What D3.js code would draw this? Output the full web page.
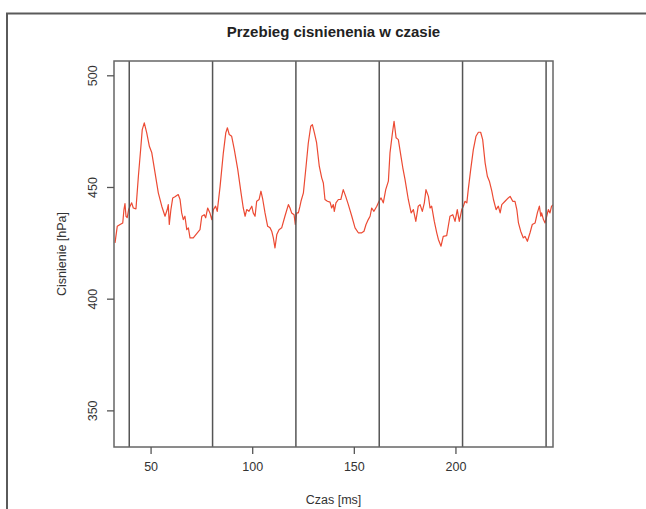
<!DOCTYPE html>
<html>
<head>
<meta charset="utf-8">
<script src="https://cdn.jsdelivr.net/npm/d3@7"></script>
<style>
  html, body { margin: 0; padding: 0; background: #fff; }
  svg text { font-family: "Liberation Sans", Arial, sans-serif; fill: #333; }
</style>
</head>
<body>
<svg id="chart" width="646" height="509"></svg>
<script>
// Pressure record: time (ms) and pressure (hPa)
const timeMs = [
  32.5, 33.6, 35.0, 36.3, 36.9, 37.4, 37.9, 38.5, 39.2, 39.9, 40.7, 41.5, 42.8, 44.0, 45.1, 45.9, 46.9, 48.1, 49.4, 50.6,
  52.2, 53.8, 55.5, 57.1, 58.2, 58.7, 59.2, 60.0, 60.9, 62.0, 63.6, 64.5, 65.3, 66.1, 66.9, 67.8, 68.6, 69.4, 71.0, 73.0,
  74.3, 75.2, 76.4, 77.1, 78.1, 79.2, 80.1, 80.9, 82.0, 82.8, 84.2, 85.8, 87.0, 87.8, 88.7, 89.9, 91.2, 92.9, 94.5, 95.6,
  96.5, 97.3, 98.4, 99.8, 100.5, 101.4, 102.2, 103.4, 104.3, 105.2, 106.3, 107.6, 108.8, 109.6, 110.4, 111.2, 112.1, 113.2, 114.5, 116.1,
  117.8, 118.6, 119.4, 120.6, 121.2, 121.9, 122.7, 123.5, 124.0, 125.2, 126.5, 127.6, 128.8, 129.6, 130.6, 131.7, 133.0, 134.2, 135.0, 135.8,
  137.0, 138.3, 139.1, 139.9, 140.4, 141.2, 142.4, 143.6, 144.8, 146.0, 147.3, 149.0, 150.6, 152.2, 153.9, 155.0, 156.0, 157.1, 158.0, 158.8,
  159.9, 161.3, 162.4, 163.4, 164.5, 165.7, 167.0, 167.8, 169.0, 169.8, 170.8, 171.9, 173.2, 174.1, 175.2, 176.8, 178.2, 179.3, 180.5, 181.7,
  182.6, 183.7, 184.7, 185.5, 186.7, 187.5, 188.3, 189.6, 190.8, 191.6, 192.9, 194.0, 195.7, 197.3, 198.7, 199.8, 200.9, 201.9, 203.1, 203.9,
  204.7, 205.6, 206.3, 207.5, 208.8, 210.1, 211.3, 212.4, 213.4, 214.6, 215.7, 216.7, 217.9, 218.7, 220.0, 221.1, 222.0, 222.8, 224.4, 226.0,
  226.9, 228.2, 229.3, 230.2, 231.0, 232.1, 233.4, 234.2, 235.4, 236.7, 237.8, 239.2, 240.3, 241.3, 242.0, 242.4, 243.3, 244.1, 244.9, 245.7,
  246.5, 247.3, 248.2
];
const pressureHPa = [
  425.0, 432.4, 433.2, 433.9, 439.9, 442.6, 436.9, 436.3, 439.9, 441.4, 442.9, 440.6, 440.2, 454.8, 466.7, 475.7, 478.7, 474.2, 468.2, 465.3,
  456.3, 447.4, 441.4, 436.9, 439.9, 442.1, 433.2, 439.9, 445.1, 445.6, 446.6, 444.4, 438.4, 435.4, 436.9, 430.9, 431.7, 427.2, 427.2, 429.5,
  430.9, 436.9, 437.6, 436.2, 440.6, 438.4, 435.4, 439.9, 441.4, 439.1, 450.3, 465.3, 474.2, 476.5, 473.5, 472.7, 466.7, 457.8, 447.4, 440.6,
  436.9, 439.9, 439.1, 441.4, 438.4, 436.9, 443.6, 444.4, 448.1, 444.4, 438.4, 432.4, 431.7, 430.2, 427.2, 422.7, 428.7, 430.9, 431.7, 436.9,
  442.1, 440.6, 438.4, 437.6, 433.2, 438.4, 438.4, 441.4, 443.6, 447.4, 459.3, 469.7, 477.2, 477.9, 474.2, 469.7, 459.3, 454.1, 451.8, 444.4,
  443.6, 443.2, 440.6, 442.1, 439.1, 442.9, 444.4, 444.4, 448.8, 445.8, 442.1, 436.9, 431.7, 429.5, 429.5, 430.2, 433.2, 435.4, 436.9, 440.6,
  439.1, 441.4, 443.6, 445.1, 442.9, 448.8, 452.6, 465.3, 474.2, 479.4, 472.0, 471.2, 463.7, 458.6, 453.3, 444.4, 438.4, 439.9, 434.6, 441.4,
  442.1, 439.1, 442.9, 448.8, 445.8, 440.6, 441.4, 434.6, 429.5, 426.5, 423.5, 427.9, 428.2, 436.9, 437.6, 434.6, 439.9, 434.6, 439.9, 441.4,
  443.6, 442.9, 448.8, 457.8, 466.7, 472.7, 474.5, 474.5, 471.2, 460.8, 454.8, 452.6, 448.1, 444.4, 439.9, 441.4, 438.4, 442.1, 443.6, 445.1,
  445.8, 443.6, 443.6, 439.9, 433.9, 430.2, 427.2, 427.9, 425.7, 429.5, 433.2, 433.9, 438.4, 441.4, 436.9, 438.4, 435.4, 433.9, 436.9, 439.9,
  438.4, 441.4, 442.1
];
// Cycle markers (ms)
const cycleMarks = [39.5, 80.5, 121.5, 162.5, 203.5, 244.6];
// Axis ticks
const xTicks = [50, 100, 150, 200];
const yTicks = [350, 400, 450, 500];
const xDomain = [32, 248];
const yDomain = [333.6, 506.4];

const svg = d3.select("#chart");
const plot = { left: 114, right: 553, top: 61, bottom: 447 };

const x = d3.scaleLinear().domain(xDomain).range([plot.left, plot.right]);
const y = d3.scaleLinear().domain(yDomain).range([plot.bottom, plot.top]);

// Outer figure border (top and left edges)
svg.append("path")
  .attr("d", "M7,509 L7,13.5 L646,13.5")
  .attr("fill", "none")
  .attr("stroke", "#5a5a5a")
  .attr("stroke-width", 2);

svg.append("defs").append("clipPath").attr("id", "plot-clip")
  .append("rect")
  .attr("x", plot.left).attr("y", plot.top)
  .attr("width", plot.right - plot.left).attr("height", plot.bottom - plot.top);

// Signal
const series = timeMs.map((t, i) => ({ t, p: pressureHPa[i] }));
const line = d3.line().x(d => x(d.t)).y(d => y(d.p));
svg.append("path")
  .datum(series)
  .attr("clip-path", "url(#plot-clip)")
  .attr("d", line)
  .attr("fill", "none")
  .attr("stroke", "#ec4a33")
  .attr("stroke-width", 1.2)
  .attr("stroke-linejoin", "round");

// Vertical cycle markers
svg.append("g")
  .selectAll("line")
  .data(cycleMarks)
  .join("line")
  .attr("x1", d => x(d)).attr("x2", d => x(d))
  .attr("y1", plot.top).attr("y2", plot.bottom)
  .attr("stroke", "#555")
  .attr("stroke-width", 1.5);

// Plot frame
svg.append("rect")
  .attr("x", plot.left).attr("y", plot.top)
  .attr("width", plot.right - plot.left).attr("height", plot.bottom - plot.top)
  .attr("fill", "none")
  .attr("stroke", "#666")
  .attr("stroke-width", 1.5);

// X axis
const xAxis = d3.axisBottom(x).tickValues(xTicks).tickSize(7).tickPadding(8);
const gx = svg.append("g").attr("transform", `translate(0,${plot.bottom})`).call(xAxis);
gx.select(".domain").remove();
gx.selectAll(".tick line").attr("stroke", "#555").attr("stroke-width", 1.3);
gx.selectAll(".tick text").attr("font-size", 12.5).style("fill", "#333");

// Y axis (labels rotated, reading upward)
const yAxis = d3.axisLeft(y).tickValues(yTicks).tickSize(7).tickPadding(0);
const gy = svg.append("g").attr("transform", `translate(${plot.left},0)`).call(yAxis);
gy.select(".domain").remove();
gy.selectAll(".tick line").attr("stroke", "#555").attr("stroke-width", 1.3);
gy.selectAll(".tick text")
  .attr("font-size", 12.5)
  .style("fill", "#333")
  .attr("x", null)
  .attr("text-anchor", "middle")
  .attr("transform", "translate(-21,0) rotate(-90)")
  .attr("dy", "0.35em");

// Title and axis titles
svg.append("text")
  .attr("x", (plot.left + plot.right) / 2).attr("y", 37)
  .attr("text-anchor", "middle")
  .attr("font-size", 15).attr("font-weight", "bold")
  .style("fill", "#222")
  .text("Przebieg cisnienenia w czasie");

svg.append("text")
  .attr("x", (plot.left + plot.right) / 2).attr("y", 504)
  .attr("text-anchor", "middle")
  .attr("font-size", 12.5)
  .text("Czas [ms]");

svg.append("text")
  .attr("transform", `translate(62,${(plot.top + plot.bottom) / 2}) rotate(-90)`)
  .attr("text-anchor", "middle")
  .attr("dy", "0.35em")
  .attr("font-size", 12.5)
  .text("Cisnienie [hPa]");
</script>
</body>
</html>
